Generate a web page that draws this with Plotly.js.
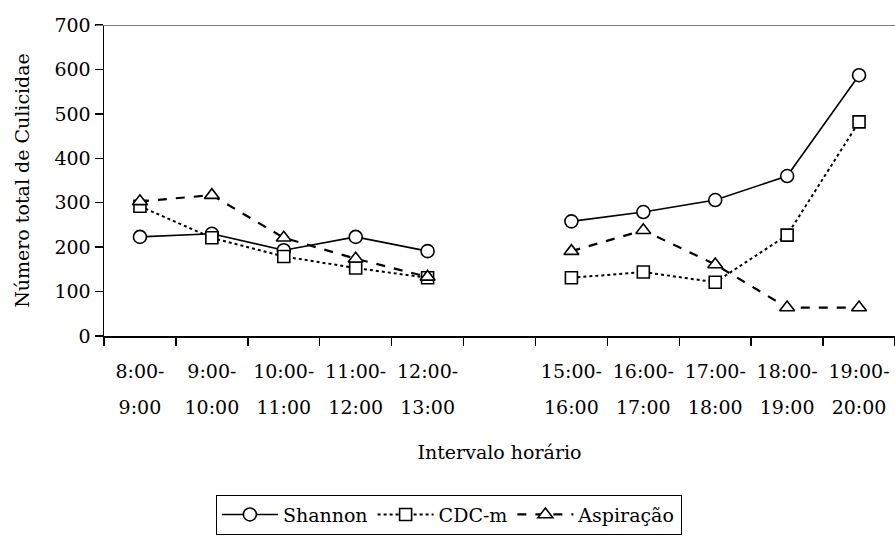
<!DOCTYPE html>
<html><head><meta charset="utf-8">
<script src="https://cdn.plot.ly/plotly-3.0.1.min.js"></script>
<style>html,body{margin:0;padding:0;background:#fff}</style>
</head><body><div id="chart" style="width:895px;height:541px"></div>
<script>
const categories = ["8:00-9:00","9:00-10:00","10:00-11:00","11:00-12:00","12:00-13:00","13:00-15:00","15:00-16:00","16:00-17:00","17:00-18:00","18:00-19:00","19:00-20:00"];
const tickLine1 = ["8:00-","9:00-","10:00-","11:00-","12:00-","","15:00-","16:00-","17:00-","18:00-","19:00-"];
const tickLine2 = ["9:00","10:00","11:00","12:00","13:00","","16:00","17:00","18:00","19:00","20:00"];
const shannon = [223,230,193,223,191,null,258,279,306,360,587];
const cdcm = [292,221,179,153,131,null,131,144,121,227,482];
const aspiracao = [303,317,221,174,133,null,191,238,161,64,64];

const FONT = 'DejaVu Serif';
const FS = 19;

const mk = (symbol, size) => ({symbol: symbol, size: size, color: '#ffffff', line: {color: '#000000', width: 1.6}});

const traces = [
  {x: categories, y: shannon, name: 'Shannon', type: 'scatter', mode: 'lines+markers',
   line: {color: '#000000', width: 1.6, dash: 'solid'}, marker: mk('circle', 13), connectgaps: false},
  {x: categories, y: cdcm, name: 'CDC-m', type: 'scatter', mode: 'lines+markers',
   line: {color: '#000000', width: 2, dash: 'dot'}, marker: mk('square', 12), connectgaps: false},
  {x: categories, y: aspiracao, name: 'Aspiração', type: 'scatter', mode: 'lines+markers',
   line: {color: '#000000', width: 2.2, dash: 'dash'}, marker: mk('triangle-up', 13), connectgaps: false},
  {x: categories, y: categories.map(() => null), xaxis: 'x2', type: 'scatter', mode: 'lines',
   showlegend: false, hoverinfo: 'skip'}
];

const layout = {
  width: 895, height: 541,
  margin: {l: 104, r: 0, t: 25, b: 205},
  paper_bgcolor: '#ffffff', plot_bgcolor: '#ffffff',
  font: {family: FONT, size: FS, color: '#000000'},
  showlegend: true,
  xaxis: {
    type: 'category', categoryorder: 'array', categoryarray: categories,
    range: [-0.5, 10.5],
    tickmode: 'array', tickvals: categories, ticktext: tickLine1,
    tickson: 'boundaries', ticks: 'outside', ticklen: 8, tickwidth: 1.5, tickcolor: '#000000',
    showline: true, linecolor: '#000000', linewidth: 1.5,
    showgrid: false, zeroline: false,
    ticklabelstandoff: 18,
    tickfont: {family: FONT, size: FS},
    title: {text: 'Intervalo horário', font: {family: FONT, size: FS}, standoff: 64}
  },
  xaxis2: {
    type: 'category', categoryorder: 'array', categoryarray: categories,
    overlaying: 'x', anchor: 'y', side: 'bottom',
    range: [-0.5, 10.5],
    tickmode: 'array', tickvals: categories, ticktext: tickLine2,
    ticks: '', showline: false, showgrid: false, zeroline: false,
    ticklabelstandoff: 58,
    tickfont: {family: FONT, size: FS}
  },
  yaxis: {
    range: [0, 700], tickmode: 'linear', tick0: 0, dtick: 100,
    ticks: 'outside', ticklen: 8, tickwidth: 1.5, tickcolor: '#000000',
    showline: true, linecolor: '#000000', linewidth: 1.5,
    showgrid: false, zeroline: false,
    tickfont: {family: FONT, size: FS},
    title: {text: 'Número total de Culicidae', font: {family: FONT, size: FS}, standoff: 20}
  },
  shapes: [
    {type: 'line', xref: 'paper', yref: 'y', x0: -8/791, x1: 1, y0: 700, y1: 700,
     line: {color: '#808080', width: 2}}
  ],
  legend: {
    orientation: 'h', x: 0.436, xanchor: 'center', y: -0.51, yanchor: 'top',
    bordercolor: '#000000', borderwidth: 1, bgcolor: '#ffffff',
    font: {family: FONT, size: FS}, itemwidth: 56, traceorder: 'normal'
  }
};

Plotly.newPlot('chart', traces, layout, {displayModeBar: false, staticPlot: true});
</script>
</body></html>
